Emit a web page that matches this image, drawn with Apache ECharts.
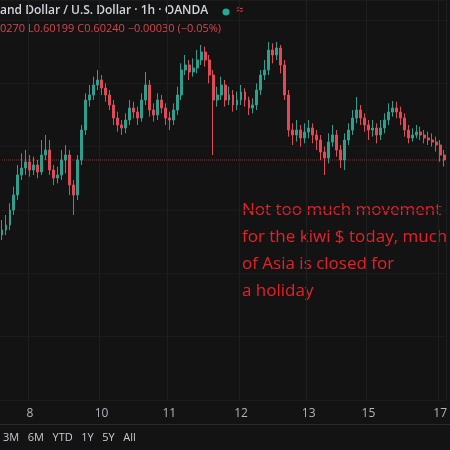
<!DOCTYPE html>
<html><head><meta charset="utf-8">
<script src="https://cdn.jsdelivr.net/npm/echarts@6/dist/echarts.min.js"></script>
<style>html,body{margin:0;padding:0;background:#131313}#main{width:450px;height:450px}</style>
</head><body><div id="main"></div>
<script>
// NZD/USD 1h closes
var closes = [0.60030,0.60045,0.60090,0.60135,0.60195,0.60216,0.60234,0.60210,0.60225,0.60204,
  0.60255,0.60270,0.60210,0.60186,0.60195,0.60240,0.60255,0.60165,0.60135,0.60240,
  0.60330,0.60420,0.60435,0.60465,0.60480,0.60456,0.60435,0.60405,0.60366,0.60345,
  0.60336,0.60360,0.60396,0.60384,0.60366,0.60420,0.60465,0.60390,0.60375,0.60420,
  0.60396,0.60366,0.60360,0.60390,0.60435,0.60510,0.60525,0.60504,0.60516,0.60540,
  0.60564,0.60540,0.60495,0.60420,0.60435,0.60465,0.60420,0.60435,0.60405,0.60420,
  0.60444,0.60420,0.60396,0.60405,0.60450,0.60495,0.60510,0.60570,0.60555,0.60576,
  0.60525,0.60435,0.60330,0.60315,0.60330,0.60306,0.60324,0.60336,0.60315,0.60300,
  0.60264,0.60246,0.60294,0.60315,0.60270,0.60240,0.60300,0.60330,0.60366,0.60390,
  0.60366,0.60345,0.60330,0.60336,0.60315,0.60336,0.60360,0.60384,0.60396,0.60384,
  0.60366,0.60330,0.60306,0.60315,0.60324,0.60315,0.60306,0.60300,0.60294,0.60285,
  0.60255,0.60240];
var highs = [0.60060,0.60075,0.60110,0.60160,0.60225,0.60260,0.60270,0.60255,0.60250,0.60240,
  0.60300,0.60315,0.60300,0.60225,0.60220,0.60270,0.60285,0.60270,0.60180,0.60255,
  0.60345,0.60440,0.60465,0.60490,0.60510,0.60495,0.60470,0.60450,0.60420,0.60385,
  0.60360,0.60380,0.60420,0.60415,0.60400,0.60440,0.60504,0.60480,0.60410,0.60440,
  0.60435,0.60410,0.60385,0.60410,0.60460,0.60530,0.60555,0.60540,0.60545,0.60570,
  0.60585,0.60580,0.60555,0.60510,0.60460,0.60490,0.60480,0.60460,0.60450,0.60445,
  0.60465,0.60455,0.60430,0.60425,0.60470,0.60510,0.60540,0.60594,0.60590,0.60594,
  0.60585,0.60540,0.60450,0.60350,0.60360,0.60345,0.60350,0.60360,0.60350,0.60330,
  0.60315,0.60280,0.60320,0.60345,0.60330,0.60285,0.60320,0.60350,0.60390,0.60429,
  0.60405,0.60380,0.60360,0.60360,0.60350,0.60360,0.60380,0.60410,0.60417,0.60415,
  0.60400,0.60380,0.60345,0.60335,0.60345,0.60340,0.60330,0.60325,0.60320,0.60310,
  0.60300,0.60270];
var lows = [0.60000,0.60015,0.60030,0.60075,0.60120,0.60180,0.60195,0.60190,0.60195,0.60185,
  0.60195,0.60240,0.60195,0.60165,0.60170,0.60180,0.60200,0.60135,0.60075,0.60120,
  0.60225,0.60315,0.60400,0.60420,0.60450,0.60435,0.60415,0.60390,0.60345,0.60325,
  0.60315,0.60320,0.60345,0.60365,0.60345,0.60355,0.60405,0.60370,0.60355,0.60360,
  0.60380,0.60345,0.60330,0.60345,0.60375,0.60420,0.60495,0.60480,0.60490,0.60500,
  0.60525,0.60520,0.60470,0.60255,0.60400,0.60420,0.60400,0.60405,0.60385,0.60390,
  0.60405,0.60400,0.60375,0.60380,0.60390,0.60435,0.60480,0.60495,0.60530,0.60540,
  0.60500,0.60420,0.60310,0.60285,0.60295,0.60280,0.60290,0.60305,0.60290,0.60270,
  0.60240,0.60195,0.60230,0.60280,0.60250,0.60216,0.60210,0.60285,0.60315,0.60350,
  0.60345,0.60325,0.60300,0.60310,0.60290,0.60300,0.60320,0.60345,0.60370,0.60365,
  0.60345,0.60310,0.60290,0.60295,0.60305,0.60300,0.60290,0.60285,0.60280,0.60265,
  0.60235,0.60220];
var firstOpen = 0.60015;
var tickIdx = [7, 25, 42, 60, 77, 92, 110];
var tickText = ['8', '10', '11', '12', '13', '15', '17'];
var lastPrice = 0.60240;

var cats = [], ohlc = [], priceLine = [];
for (var i = 0; i < closes.length; i++) {
    cats.push('h' + i);
    var o = i == 0 ? firstOpen : closes[i - 1];
    ohlc.push([o, closes[i], lows[i], highs[i]]);
    priceLine.push(lastPrice);
}
function isTick(idx) { return tickIdx.indexOf(idx) >= 0; }

var myChart = echarts.init(document.getElementById('main'));
var option = {
    backgroundColor: '#131313',
    animation: false,
    grid: {left: 0, right: 0, top: 0, bottom: 50},
    xAxis: {
        type: 'category', data: cats, boundaryGap: true,
        axisLine: {show: false}, axisTick: {show: false},
        axisLabel: {
            interval: function (idx) { return isTick(idx); },
            formatter: function (v, idx) { return tickText[tickIdx.indexOf(idx)] || ''; },
            color: '#b2b5be', fontSize: 12, margin: 8, fontFamily: 'Open Sans'
        },
        splitLine: {show: true, interval: function (idx) { return isTick(idx); },
            lineStyle: {color: '#1f1f1f', width: 1}}
    },
    yAxis: {
        type: 'value', min: 0.5952, max: 0.6072, interval: 0.0019,
        axisLabel: {show: false}, axisLine: {show: false},
        splitLine: {lineStyle: {color: '#1b1b1b'}}
    },
    graphic: [
        {type: 'text', left: 0, top: 5, style: {text: 'and Dollar / U.S. Dollar · 1h · OANDA', fill: '#d1d4dc', font: '600 12px "Open Sans"'}},
        {type: 'circle', shape: {cx: 226, cy: 12, r: 3.5}, style: {fill: '#22ab94'}},
        {type: 'text', left: 236, top: 4, style: {text: '≈', fill: '#f23645', font: '13px "Open Sans"'}},
        {type: 'text', left: 0, top: 23, style: {text: '0270 L0.60199 C0.60240 −0.00030 (−0.05%)', fill: '#d6454f', font: '11px "Open Sans"'}},
        {type: 'text', left: 242, top: 197, style: {text: 'Not too much movement\nfor the kiwi $ today, much\nof Asia is closed for\na holiday', fill: '#e8202a', font: '17px "Open Sans"', lineHeight: 27}},
        {type: 'rect', shape: {x: 0, y: 424, width: 450, height: 1}, style: {fill: '#2a2a2a'}},
        {type: 'text', left: 3, top: 432, style: {text: '3M   6M   YTD   1Y   5Y   All', fill: '#c8cbd2', font: '11px "Open Sans"'}}
    ],
    series: [{
        type: 'line', data: priceLine, symbol: 'none', silent: true, z: 1,
        lineStyle: {color: '#8b3a3a', type: 'dotted', width: 1}
    }, {
        type: 'candlestick', data: ohlc, barWidth: '60%', z: 2,
        itemStyle: {color: '#2f9e8c', color0: '#e04a57', borderColor: '#2f9e8c', borderColor0: '#e04a57'}
    }]
};
myChart.setOption(option);
</script></body></html>
